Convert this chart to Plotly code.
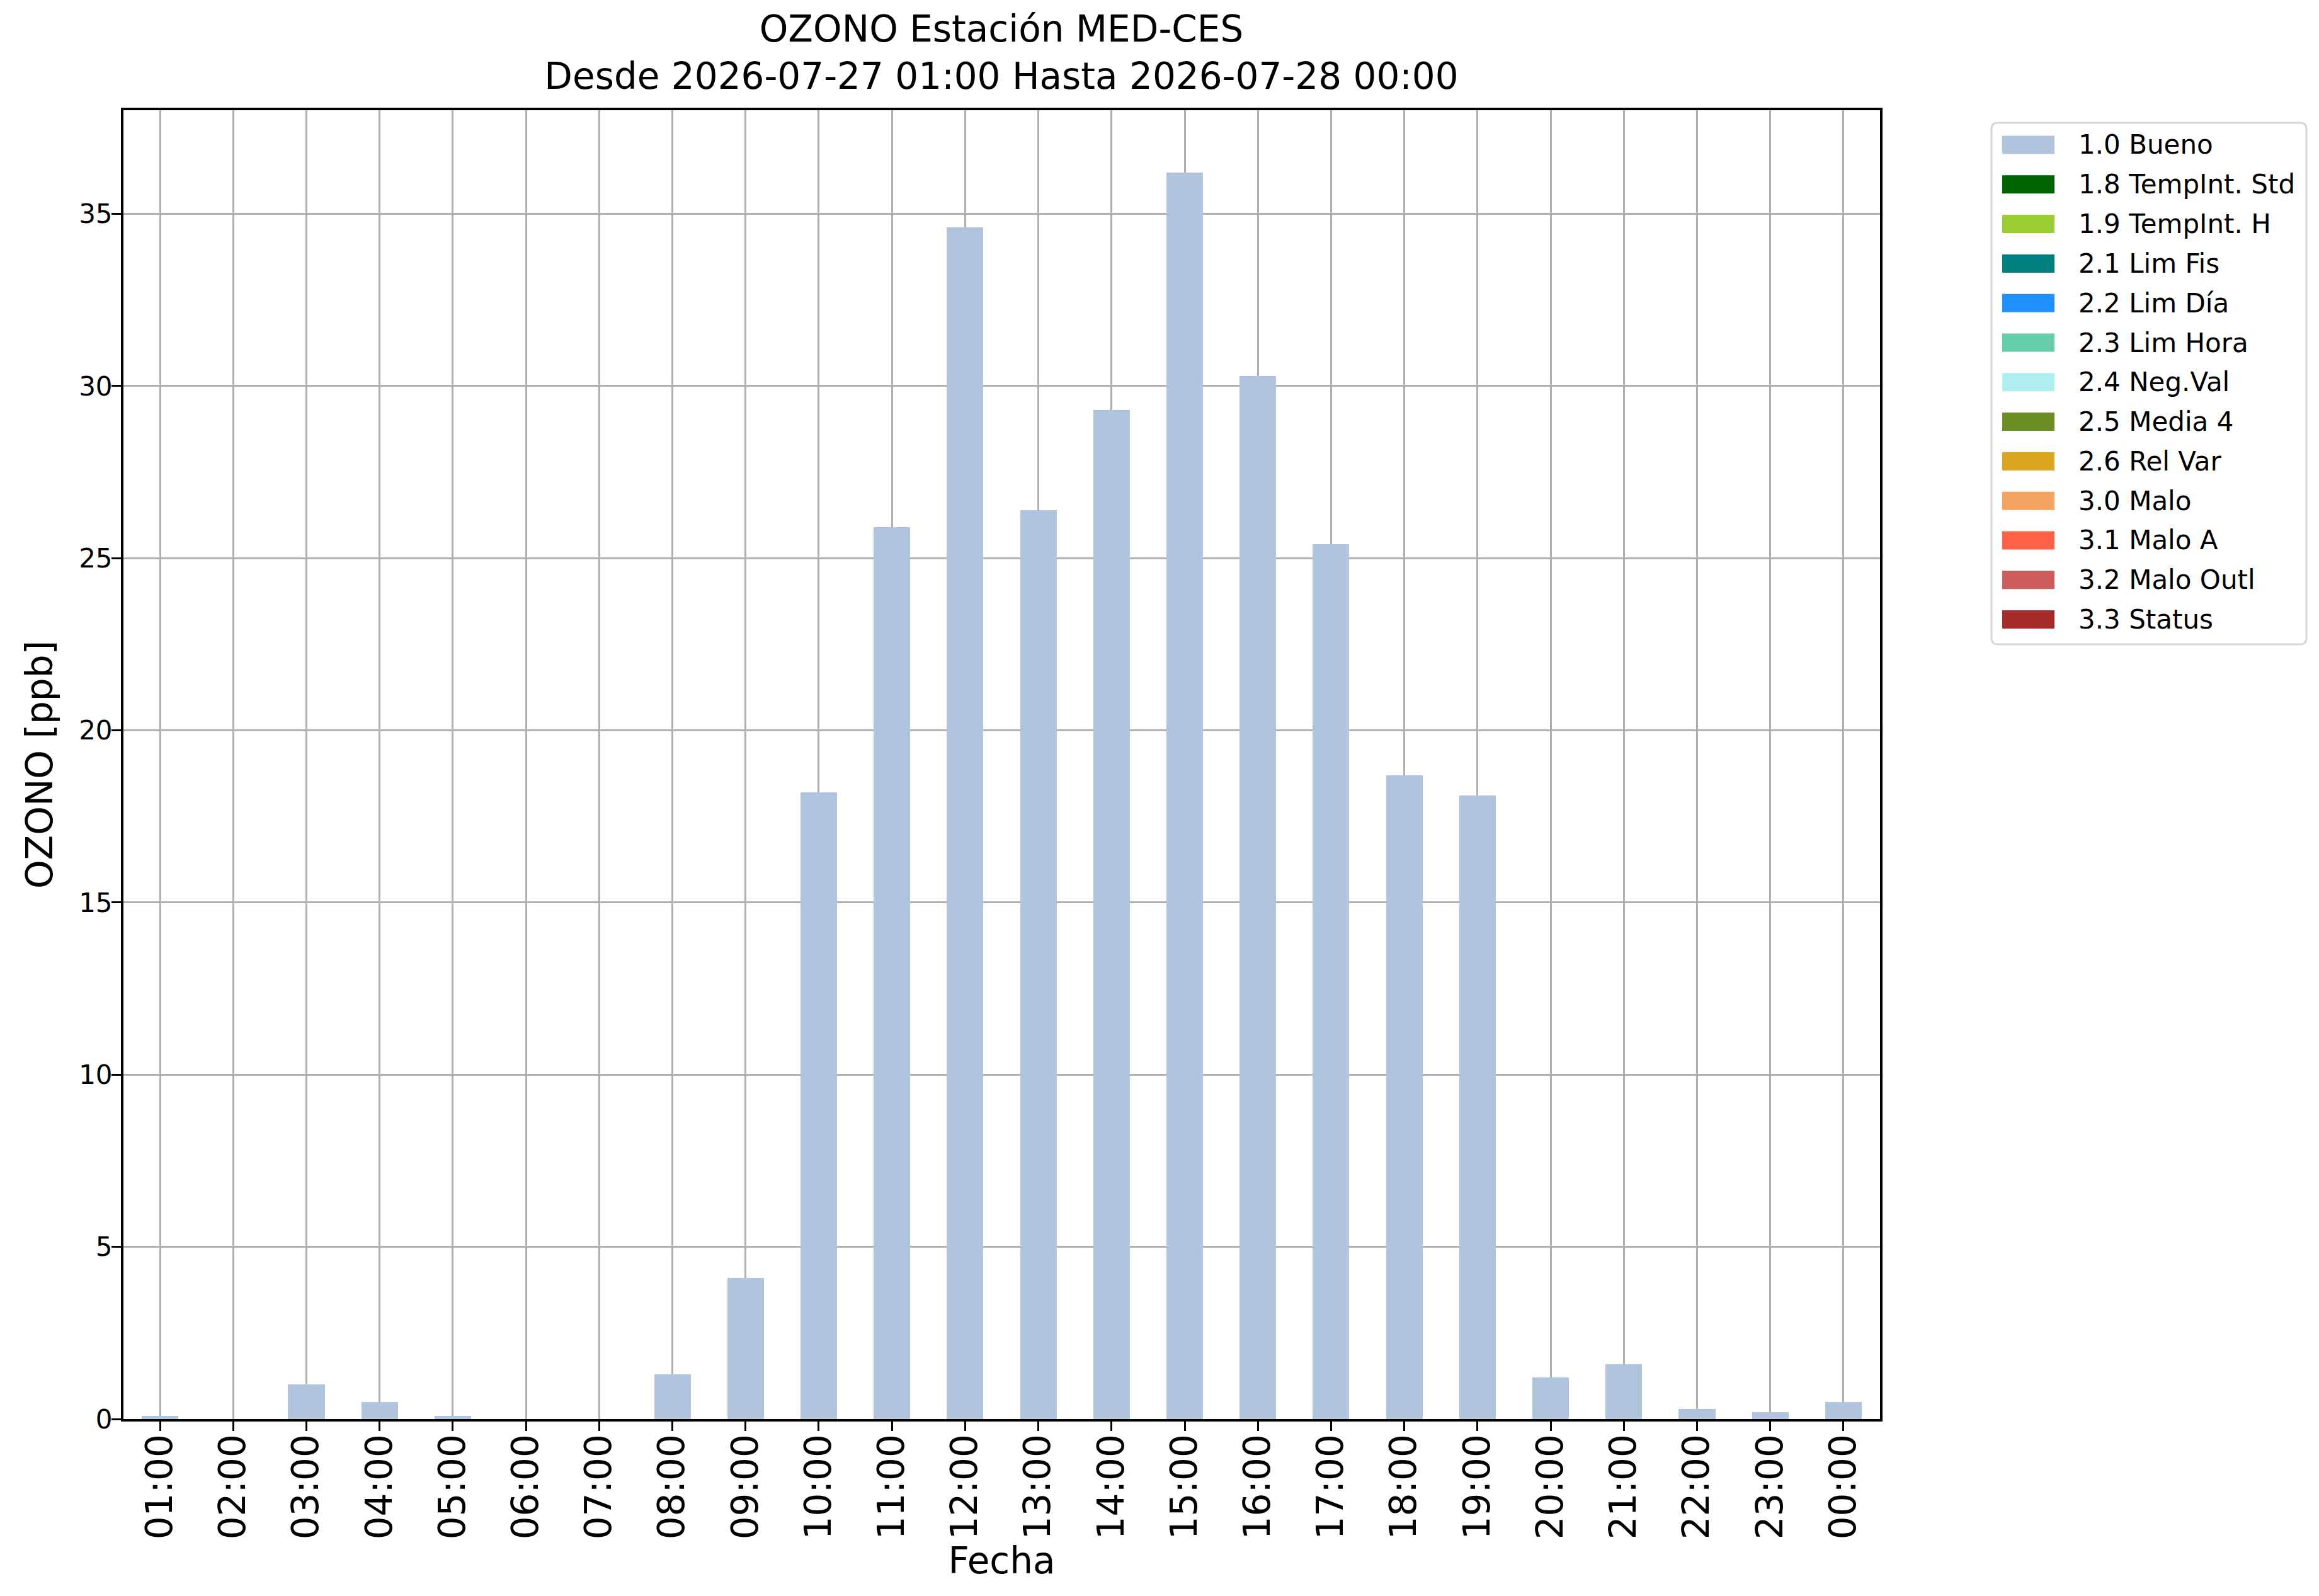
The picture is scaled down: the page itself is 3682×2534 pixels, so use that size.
import plotly.graph_objects as go

# Horas del periodo y concentración de ozono (ppb) por bandera de calidad
horas = ["01:00", "02:00", "03:00", "04:00", "05:00", "06:00", "07:00", "08:00",
         "09:00", "10:00", "11:00", "12:00", "13:00", "14:00", "15:00", "16:00",
         "17:00", "18:00", "19:00", "20:00", "21:00", "22:00", "23:00", "00:00"]

bueno = [0.1, 0.0, 1.0, 0.5, 0.1, 0.0, 0.0, 1.3, 4.1, 18.2, 25.9, 34.6,
         26.4, 29.3, 36.2, 30.3, 25.4, 18.7, 18.1, 1.2, 1.6, 0.3, 0.2, 0.5]

# las demás banderas no tienen datos en este periodo
sin_datos = [0.0] * len(horas)

banderas = ["1.0 Bueno", "1.8 TempInt. Std", "1.9 TempInt. H", "2.1 Lim Fis",
            "2.2 Lim Día", "2.3 Lim Hora", "2.4 Neg.Val", "2.5 Media 4",
            "2.6 Rel Var", "3.0 Malo", "3.1 Malo A", "3.2 Malo Outl", "3.3 Status"]
colores = ["#B0C4DE", "#006400", "#9ACD32", "#008080", "#1E90FF", "#66CDAA",
           "#AFEEEE", "#6B8E23", "#DAA520", "#F4A460", "#FF6347", "#CD5C5C", "#A52A2A"]
valores = [bueno] + [sin_datos] * (len(banderas) - 1)

W, H = 3682, 2534
L, R, T, B = 188, 2977, 167, 2245


def px_x(px):
    return (px - L) / (R - L)


def px_y(py):
    return (B - py) / (B - T)


fig = go.Figure()
for nombre, color, vals in zip(banderas, colores, valores):
    fig.add_trace(go.Bar(x=horas, y=vals, name=nombre, width=0.5,
                         marker=dict(color=color, line=dict(width=0)),
                         showlegend=False))

# leyenda dibujada a mano (cajas de color anchas como en el original)
shapes = []
annotations = []
x0, x1, y0, y1, r = 3154, 3654, 187, 1015, 10
shapes.append(dict(
    type="path", xref="paper", yref="paper",
    path=(f"M {px_x(x0 + r)},{px_y(y0)} L {px_x(x1 - r)},{px_y(y0)} "
          f"Q {px_x(x1)},{px_y(y0)} {px_x(x1)},{px_y(y0 + r)} "
          f"L {px_x(x1)},{px_y(y1 - r)} Q {px_x(x1)},{px_y(y1)} {px_x(x1 - r)},{px_y(y1)} "
          f"L {px_x(x0 + r)},{px_y(y1)} Q {px_x(x0)},{px_y(y1)} {px_x(x0)},{px_y(y1 - r)} "
          f"L {px_x(x0)},{px_y(y0 + r)} Q {px_x(x0)},{px_y(y0)} {px_x(x0 + r)},{px_y(y0)} Z"),
    line=dict(color="#d6d6d6", width=3), fillcolor="rgba(255,255,255,0.8)"))
for i, (nombre, color) in enumerate(zip(banderas, colores)):
    yc = 222 + 62.8 * i
    shapes.append(dict(type="rect", xref="paper", yref="paper",
                       x0=px_x(3171), x1=px_x(3254),
                       y0=px_y(yc - 14.5), y1=px_y(yc + 14.5),
                       line=dict(width=0), fillcolor=color))
    annotations.append(dict(text=nombre, xref="paper", yref="paper",
                            x=px_x(3290), y=px_y(yc), xanchor="left", yanchor="middle",
                            showarrow=False, font=dict(size=42, color="black")))

fig.update_layout(
    width=W, height=H,
    barmode="stack",
    plot_bgcolor="white", paper_bgcolor="white",
    font=dict(family="DejaVu Sans", color="black"),
    margin=dict(l=L, r=W - R, t=T, b=H - B),
    title=dict(text="OZONO Estación MED-CES<br>Desde 2026-07-27 01:00 Hasta 2026-07-28 00:00",
               x=px_x(1582), xref="paper", xanchor="center",
               y=1 - 58 / H, yref="container", yanchor="top",
               font=dict(size=58)),
    shapes=shapes,
    annotations=annotations,
    showlegend=False,
)

fig.update_xaxes(
    type="category", range=[-0.5, 23.5],
    tickangle=-90, tickfont=dict(size=58), ticklabelstandoff=-18,
    ticks="outside", ticklen=15, tickwidth=3, tickcolor="black",
    showgrid=True, gridcolor="#b0b0b0", gridwidth=3,
    showline=True, linecolor="black", linewidth=4, mirror=True,
    layer="above traces",
    title=dict(text="Fecha", font=dict(size=58), standoff=4),
)
fig.update_yaxes(
    range=[0, 38.01], tickvals=[0, 5, 10, 15, 20, 25, 30, 35],
    tickfont=dict(size=42), ticklabelstandoff=-10,
    ticks="outside", ticklen=15, tickwidth=3, tickcolor="black",
    showgrid=True, gridcolor="#b0b0b0", gridwidth=3, zeroline=False,
    showline=True, linecolor="black", linewidth=4, mirror=True,
    layer="above traces",
    title=dict(text="OZONO [ppb]", font=dict(size=58), standoff=24),
)

fig.write_html("out.html")
